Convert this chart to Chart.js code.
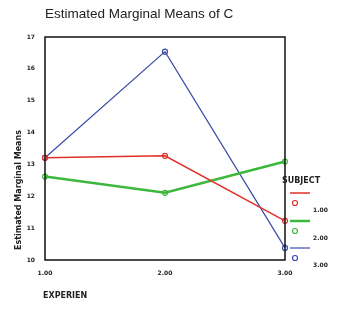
<!DOCTYPE html>
<html><head><meta charset="utf-8">
<script src="https://cdn.jsdelivr.net/npm/chart.js@4/dist/chart.umd.min.js"></script>
<style>html,body{margin:0;padding:0;background:#fff;}#wrap{width:337px;height:317px;position:relative;}</style>
</head><body><div id="wrap"><canvas id="c" width="337" height="317"></canvas></div>
<script>
const chartTitle = "Estimated Marginal Means of C";
const xTitle = "EXPERIEN";
const yTitle = "Estimated Marginal Means";
const legendTitle = "SUBJECT";
const categories = ["1.00", "2.00", "3.00"];
const seriesNames = ["1.00", "2.00", "3.00"];
const subject1 = [13.21, 13.27, 11.23];
const subject2 = [12.62, 12.11, 13.09];
const subject3 = [13.21, 16.54, 10.38];
const yMin = 10, yMax = 17;

const colors = ["#e0302a", "#3cb83c", "#3a4aa8"];
const widths = [1.5, 2.5, 1.2];

const framePlugin = {
  id: 'frame',
  afterDraw(chart) {
    const ctx = chart.ctx, a = chart.chartArea;
    ctx.save();
    ctx.strokeStyle = '#111';
    ctx.lineWidth = 1.5;
    ctx.strokeRect(a.left, a.top, a.right - a.left, a.bottom - a.top);
    // chart title
    ctx.fillStyle = '#222';
    ctx.font = '13.5px "Liberation Sans", Arial, sans-serif';
    ctx.textBaseline = 'middle';
    ctx.textAlign = 'left';
    ctx.fillText(chartTitle, 45, 14);
    // y title
    ctx.save();
    ctx.translate(19, 190);
    ctx.rotate(-Math.PI / 2);
    ctx.textAlign = 'center';
    ctx.font = 'bold 8px "DejaVu Sans", sans-serif';
    ctx.fillText(yTitle, 0, 0);
    ctx.restore();
    // x title
    ctx.font = 'bold 8px "DejaVu Sans", sans-serif';
    ctx.textAlign = 'left';
    ctx.fillText(xTitle, 43, 296);
    // legend
    ctx.font = 'bold 8px "DejaVu Sans", sans-serif';
    ctx.fillText(legendTitle, 282, 181);
    const rows = [193, 221, 248];
    chart.data.datasets.forEach((ds, i) => {
      const y = rows[i];
      ctx.strokeStyle = ds.borderColor;
      ctx.lineWidth = ds.borderWidth;
      ctx.beginPath(); ctx.moveTo(290, y); ctx.lineTo(310, y); ctx.stroke();
      ctx.lineWidth = 1.2;
      ctx.beginPath(); ctx.arc(295, y + 10, 2.5, 0, Math.PI * 2); ctx.stroke();
      ctx.fillStyle = '#222';
      ctx.font = 'bold 6px "DejaVu Sans", sans-serif';
      ctx.fillText(ds.label, 313, y + 17);
    });
    ctx.restore();
  }
};

const mk = (label, data, i) => ({
  label, data,
  borderColor: colors[i], backgroundColor: '#fff',
  borderWidth: widths[i], pointRadius: 2.5, pointBorderWidth: 1.2,
  pointBackgroundColor: 'rgba(255,255,255,0)', pointBorderColor: colors[i],
  tension: 0, clip: false
});

new Chart(document.getElementById('c'), {
  type: 'line',
  data: {
    labels: categories,
    datasets: [mk(seriesNames[0], subject1, 0), mk(seriesNames[1], subject2, 1), mk(seriesNames[2], subject3, 2)]
  },
  options: {
    responsive: false, animation: false,
    layout: { padding: { left: 0, right: 52, top: 37, bottom: 0 } },
    plugins: { legend: { display: false }, title: { display: false }, tooltip: { enabled: false } },
    scales: {
      x: {
        type: 'category', offset: false,
        grid: { display: false, drawTicks: false }, border: { display: false },
        ticks: { color: '#222', font: { size: 6, weight: 'bold', family: '"DejaVu Sans", sans-serif' }, padding: 10, maxRotation: 0, autoSkip: false },
        afterFit(s) { s.height = 317 - 260; }
      },
      y: {
        min: yMin, max: yMax,
        grid: { display: false, drawTicks: false }, border: { display: false },
        ticks: { stepSize: 1, color: '#222', font: { size: 6, weight: 'bold', family: '"DejaVu Sans", sans-serif' }, padding: 10 },
        afterFit(s) { s.width = 45; }
      }
    }
  },
  plugins: [framePlugin]
});
</script></body></html>
